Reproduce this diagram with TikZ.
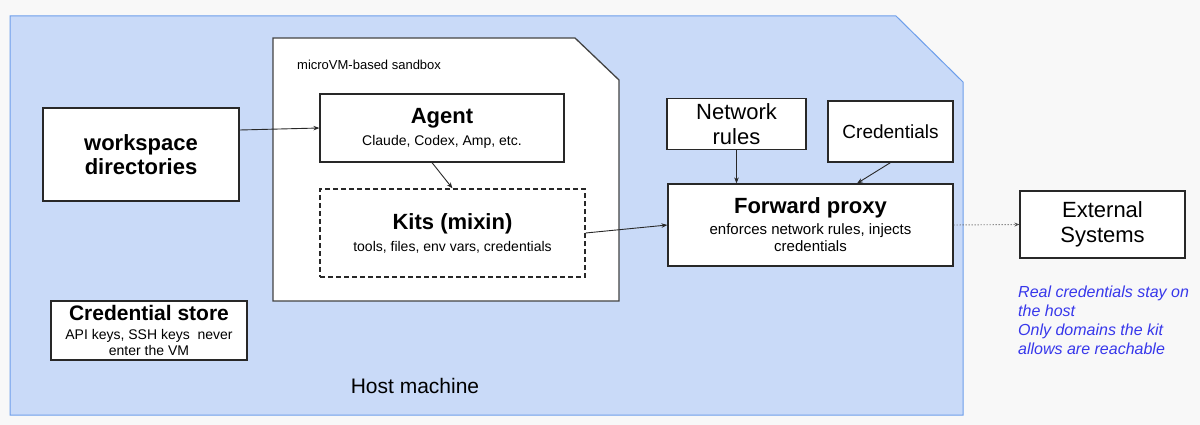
\documentclass[tikz,border=0pt]{standalone}
\usepackage{fontspec}
\setmainfont{Liberation Sans}
\usetikzlibrary{arrows.meta}
\definecolor{pagebg}{RGB}{248,248,248}
\definecolor{hostfill}{RGB}{201,218,248}
\definecolor{hostline}{RGB}{109,158,235}
\definecolor{boxline}{RGB}{40,40,40}
\definecolor{sandline}{RGB}{67,67,67}
\definecolor{notecol}{RGB}{55,55,235}
\newcommand{\fs}[2]{\fontsize{#1}{#2}\selectfont}
\tikzset{
  box/.style={draw=boxline, line width=1.2pt, fill=white, inner sep=2pt, align=center},
  arr/.style={draw=boxline, line width=0.9pt, -{Stealth[length=6pt,width=4.5pt]}},
  dotarr/.style={draw=boxline!80, line width=0.9pt, dash pattern=on 1pt off 2pt, -{Stealth[length=5pt,width=4pt]}},
}
\begin{document}
\begin{tikzpicture}[x=1pt,y=-1pt]
\useasboundingbox (0,0) rectangle (1200,425);
\fill[pagebg] (0,0) rectangle (1200,425);
% host machine
\draw[hostline, line width=1pt, fill=hostfill] (10,16) -- (896,16) -- (963,82) -- (963,415) -- (10,415) -- cycle;
% sandbox
\draw[sandline, line width=1.3pt, fill=white] (273,38) -- (575,38) -- (619,80) -- (619,301) -- (273,301) -- cycle;
\node[anchor=west, inner sep=0pt, font=\fs{13}{15}] (sbl) at (297,65) {microVM-based sandbox};
\node[inner sep=0pt, font=\fs{21}{24}] (host) at (415,386) {Host machine};

\node[box, minimum width=196pt, minimum height=93pt, font=\fs{22}{24}\bfseries] (ws) at (141,154.5)
  {workspace\\directories};
\node[box, minimum width=244pt, minimum height=68pt, font=\fs{14}{17}] (agent) at (442,128)
  {{\fs{22}{22}\bfseries Agent}\\[5pt]Claude, Codex, Amp, etc.};
\node[box, dash pattern=on 5pt off 3pt, minimum width=265pt, minimum height=88pt, font=\fs{14}{17}] (kits) at (452.5,233)
  {{\fs{22}{22}\bfseries Kits (mixin)}\\[5pt]tools, files, env vars, credentials};
\node[box, minimum width=139pt, minimum height=51pt, inner sep=0pt, font=\fs{22}{25}] (net) at (736.5,124)
  {Network\\rules};
\node[box, minimum width=125pt, minimum height=61pt, font=\fs{19}{22}] (cred) at (890.5,131.5)
  {Credentials};
\node[box, minimum width=285pt, minimum height=82pt, font=\fs{15}{17}] (proxy) at (810.5,225)
  {{\fs{22}{22}\bfseries Forward proxy}\\[4pt]enforces network rules, injects\\credentials};
\node[box, minimum width=165pt, minimum height=67pt, font=\fs{22}{25}] (ext) at (1102.5,224.5)
  {External\\Systems};
\node[box, minimum width=196pt, minimum height=59pt, inner sep=1pt, font=\fs{14}{16}] (store) at (149,330.5)
  {{\fs{21}{22}\bfseries Credential store}\\[3pt]API keys, SSH keys\ \ never\\enter the VM};

\node[anchor=north west, inner sep=0pt, align=left, text=notecol, font=\fs{16}{19}\itshape] (note) at (1018,286)
  {Real credentials stay on\\the host\\Only domains the kit\\allows are reachable};

% connectors
\draw[arr] ([yshift=24.5pt]ws.east) -- (agent.west);
\draw[arr] ([xshift=-10pt]agent.south) -- (kits.north);
\draw[arr] (kits.east) -- (proxy.west);
\draw[arr] (net.south) -- (net.south |- proxy.north);
\draw[arr] (cred.south) -- ([xshift=46.5pt]proxy.north);
\draw[dotarr] (proxy.east) -- (ext.west);
\end{tikzpicture}
\end{document}
